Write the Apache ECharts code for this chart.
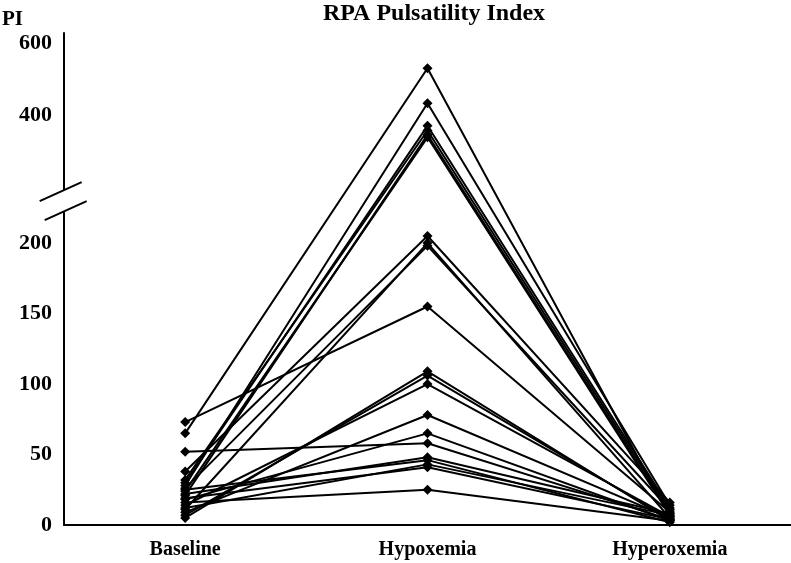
<!DOCTYPE html>
<html><head><meta charset="utf-8">
<script src="https://cdn.jsdelivr.net/npm/echarts@6/dist/echarts.min.js"></script>
<style>html,body{margin:0;padding:0;background:#fff}#c{width:791px;height:563px}</style>
</head><body><div id="c"></div>
<script>
var categories = ['Baseline', 'Hypoxemia', 'Hyperoxemia'];
var baseline    = [73, 65, 52, 28, 30, 32, 21, 24, 38, 11, 26, 5, 7, 14, 9, 18, 22, 25, 12, 19, 16];
var hypoxemia   = [155, 530, 58, 433, 370, 357, 345, 338, 205, 200, 198, 109, 106, 100, 78, 65, 48, 46, 43, 41, 25];
var hyperoxemia = [9, 6, 4, 14, 12, 10, 8, 7, 16, 5, 11, 3, 4, 6, 5, 3, 8, 2, 7, 4, 3];
var lowerTicks = [0, 50, 100, 150, 200];
var upperTicks = [400, 600];

// broken axis: 0-220 linear, upper segment compressed
var UP_BASE = 290.8, UP_SCALE = 0.255;
function toD(v) { return v <= 220 ? v : UP_BASE + (v - 400) * UP_SCALE; }
function fromD(d) { return d <= 221 ? d : 400 + (d - UP_BASE) / UP_SCALE; }

var FONT = '"Liberation Serif", "Times New Roman", serif';
var tickVals = lowerTicks.map(toD).concat(upperTicks.map(toD));

var series = baseline.map(function (b, i) {
  return {
    type: 'line',
    data: [toD(b), toD(hypoxemia[i]), toD(hyperoxemia[i])],
    symbol: 'diamond', symbolSize: 10,
    itemStyle: { color: '#000' },
    lineStyle: { color: '#000', width: 2 },
    animation: false, silent: true
  };
});

var chart = echarts.init(document.getElementById('c'));
chart.setOption({
  animation: false,
  title: [
    { text: 'RPA Pulsatility Index', left: 429, top: -3, textAlign: 'center',
      textStyle: { fontFamily: FONT, fontWeight: 'bold', fontSize: 24, color: '#000' } },
    { text: 'PI', left: -3, top: 4,
      textStyle: { fontFamily: FONT, fontWeight: 'bold', fontSize: 21, color: '#000' } }
  ],
  grid: { left: 64, right: 0, top: 33, bottom: 38, containLabel: false },
  xAxis: {
    type: 'category', data: categories, boundaryGap: true,
    axisLine: { lineStyle: { color: '#000', width: 2 } },
    axisTick: { show: false },
    axisLabel: { margin: 15, fontFamily: FONT, fontWeight: 'bold', fontSize: 20, color: '#000' }
  },
  yAxis: {
    type: 'value', min: 0, max: 349,
    splitLine: { show: false },
    axisLine: { show: true, lineStyle: { color: '#000', width: 2 } },
    axisTick: { show: false },
    axisLabel: {
      customValues: tickVals, margin: 12,
      fontFamily: FONT, fontWeight: 'bold', fontSize: 22, color: '#000',
      formatter: function (d) { return String(Math.round(fromD(d))); }
    }
  },
  series: series
});

// axis break marks computed from axis scale
var pTop = chart.convertToPixel({ yAxisIndex: 0 }, 237.6);
var pBot = chart.convertToPixel({ yAxisIndex: 0 }, 222);
var x0 = chart.convertToPixel({ xAxisIndex: 0 }, 0) - 121.5;
chart.setOption({
  graphic: [
    { type: 'rect', shape: { x: x0 - 4, y: pTop, width: 8, height: pBot - pTop }, style: { fill: '#fff' }, z: 100 },
    { type: 'line', shape: { x1: x0 - 24, y1: pTop + 11, x2: x0 + 18, y2: pTop - 8 }, style: { stroke: '#000', lineWidth: 2 }, z: 101 },
    { type: 'line', shape: { x1: x0 - 19, y1: pBot + 8, x2: x0 + 23, y2: pBot - 11 }, style: { stroke: '#000', lineWidth: 2 }, z: 101 }
  ]
});
</script></body></html>
